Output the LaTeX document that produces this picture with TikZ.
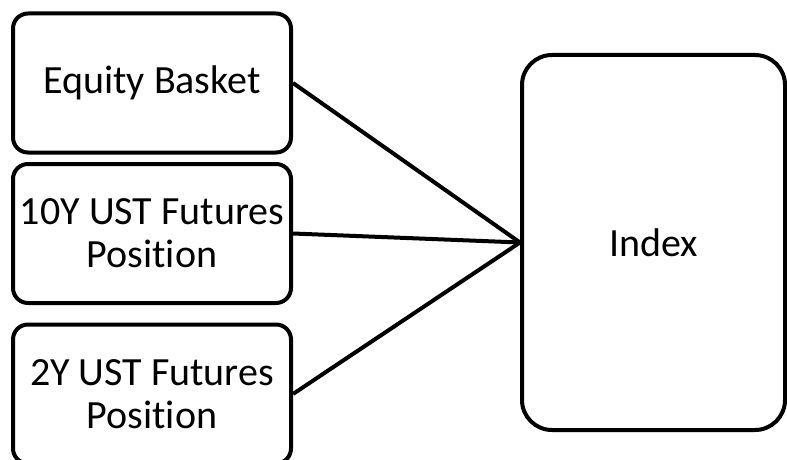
\documentclass[tikz,border=0pt]{standalone}
\usepackage{fontspec}
\setmainfont{Carlito}[Ligatures=CommonOff]
\usepackage{tikz}

\tikzset{
    legbox/.style={draw, line width=4pt, rounded corners=15pt, inner sep=0pt,
        minimum width=278pt, minimum height=139pt, align=center,
        font=\fontsize{40}{43}\selectfont},
    indexbox/.style={draw, line width=4pt, rounded corners=30pt, inner sep=0pt,
        minimum width=263pt, minimum height=375pt, align=center,
        font=\fontsize{40}{43}\selectfont},
    link/.style={line width=4pt}
}

\begin{document}
\begin{tikzpicture}[x=1pt,y=1pt]
    % picture frame
    \clip (0,0) rectangle (787,459);

    % draw boxes
    \node[legbox] (equity) at (152,376) {Equity Basket};
    \node[legbox] (tenyear) at (152,225.5) {10Y UST Futures\\Position};
    \node[legbox] (twoyear) at (152,65) {2Y UST Futures\\Position};
    \node[indexbox] (index) at (653.5,216.5) {Index};

    % draw links
    \foreach \leg in {equity,tenyear,twoyear}
    \draw[link] (\leg.east) -- (index.west);
\end{tikzpicture}
\end{document}
